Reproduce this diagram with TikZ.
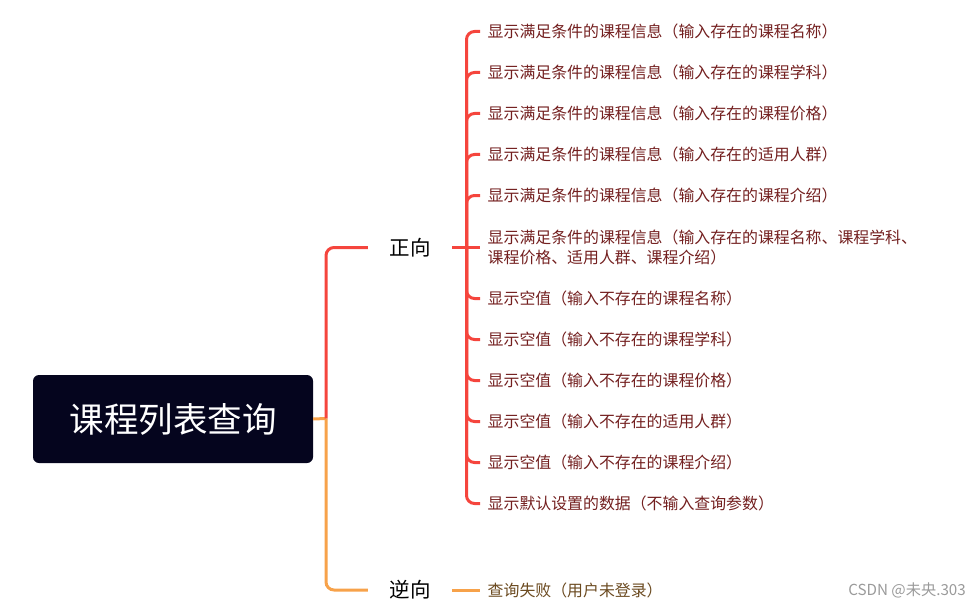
\documentclass[tikz,border=0pt]{standalone}
\usepackage{fontspec}
\setmainfont{Noto Sans CJK SC}
\definecolor{rootfill}{HTML}{05051E}
\definecolor{redln}{HTML}{F5453D}
\definecolor{orangeln}{HTML}{F7A24A}
\definecolor{redtxt}{HTML}{731F1F}
\definecolor{browntxt}{HTML}{6B4A20}
\definecolor{marktxt}{HTML}{9A9A9A}
\begin{document}
\begin{tikzpicture}[x=1pt,y=-1pt,
  rootbox/.style={fill=rootfill,rounded corners=6pt,minimum width=280pt,minimum height=88pt,
    text=white,font=\fontsize{34.5}{40}\selectfont,inner sep=0pt},
  midnode/.style={minimum width=84pt,inner sep=0pt,font=\fontsize{20.5}{24}\selectfont,text=black},
  leaf/.style={anchor=west,inner xsep=7.5pt,inner ysep=0pt,font=\fontsize{15.9}{20.5}\selectfont,text=redtxt,align=left},
  leafb/.style={leaf,text=browntxt},
  redline/.style={draw=redln,line width=3pt,rounded corners=8pt},
  orangeline/.style={draw=orangeln,line width=3pt,rounded corners=8pt}]
\useasboundingbox (0,0) rectangle (980,607);
\node[rootbox] (root) at (173,419) {课程列表查询};
\coordinate (rj) at (326,418.5);
\node[midnode] (zx) at (410,247.5) {正向};
\node[midnode] (nx) at (410,590) {逆向};
\coordinate (zj) at (466.5,247.5);
\coordinate (nj) at (466.5,590);
% leaves
\node[leaf] (c1) at (480,31.5) {显示满足条件的课程信息（输入存在的课程名称）};
\node[leaf] (c2) at (480,72.5) {显示满足条件的课程信息（输入存在的课程学科）};
\node[leaf] (c3) at (480,113.5) {显示满足条件的课程信息（输入存在的课程价格）};
\node[leaf] (c4) at (480,154.5) {显示满足条件的课程信息（输入存在的适用人群）};
\node[leaf] (c5) at (480,195.5) {显示满足条件的课程信息（输入存在的课程介绍）};
\node[leaf] (c6) at (480,247.5) {显示满足条件的课程信息（输入存在的课程名称、课程学科、\\课程价格、适用人群、课程介绍）};
\node[leaf] (c7) at (480,298.5) {显示空值（输入不存在的课程名称）};
\node[leaf] (c8) at (480,339.5) {显示空值（输入不存在的课程学科）};
\node[leaf] (c9) at (480,380.5) {显示空值（输入不存在的课程价格）};
\node[leaf] (c10) at (480,421.5) {显示空值（输入不存在的适用人群）};
\node[leaf] (c11) at (480,462.5) {显示空值（输入不存在的课程介绍）};
\node[leaf] (c12) at (480,503.5) {显示默认设置的数据（不输入查询参数）};
\node[leafb] (d1) at (480,590) {查询失败（用户未登录）};
\node[anchor=east,inner sep=0pt,font=\fontsize{15.2}{17}\selectfont,text=marktxt] (mark) at (966,590) {CSDN @未央.303};
% connectors root
\draw[orangeline] (root.east) -- (rj);
\draw[redline] (rj) |- (zx.west);
\draw[orangeline] (rj) |- (nx.west);
\draw[redline] (zx.east) -- (zj);
\draw[orangeline] (nx.east) -- (nj) -- (d1.west);
\foreach \c in {c1,c2,c3,c4,c5,c7,c8,c9,c10,c11,c12}{
  \draw[redline] (zj) |- (\c.west);
}
\draw[redline] (zj) -- (c6.west);
\end{tikzpicture}
\end{document}
